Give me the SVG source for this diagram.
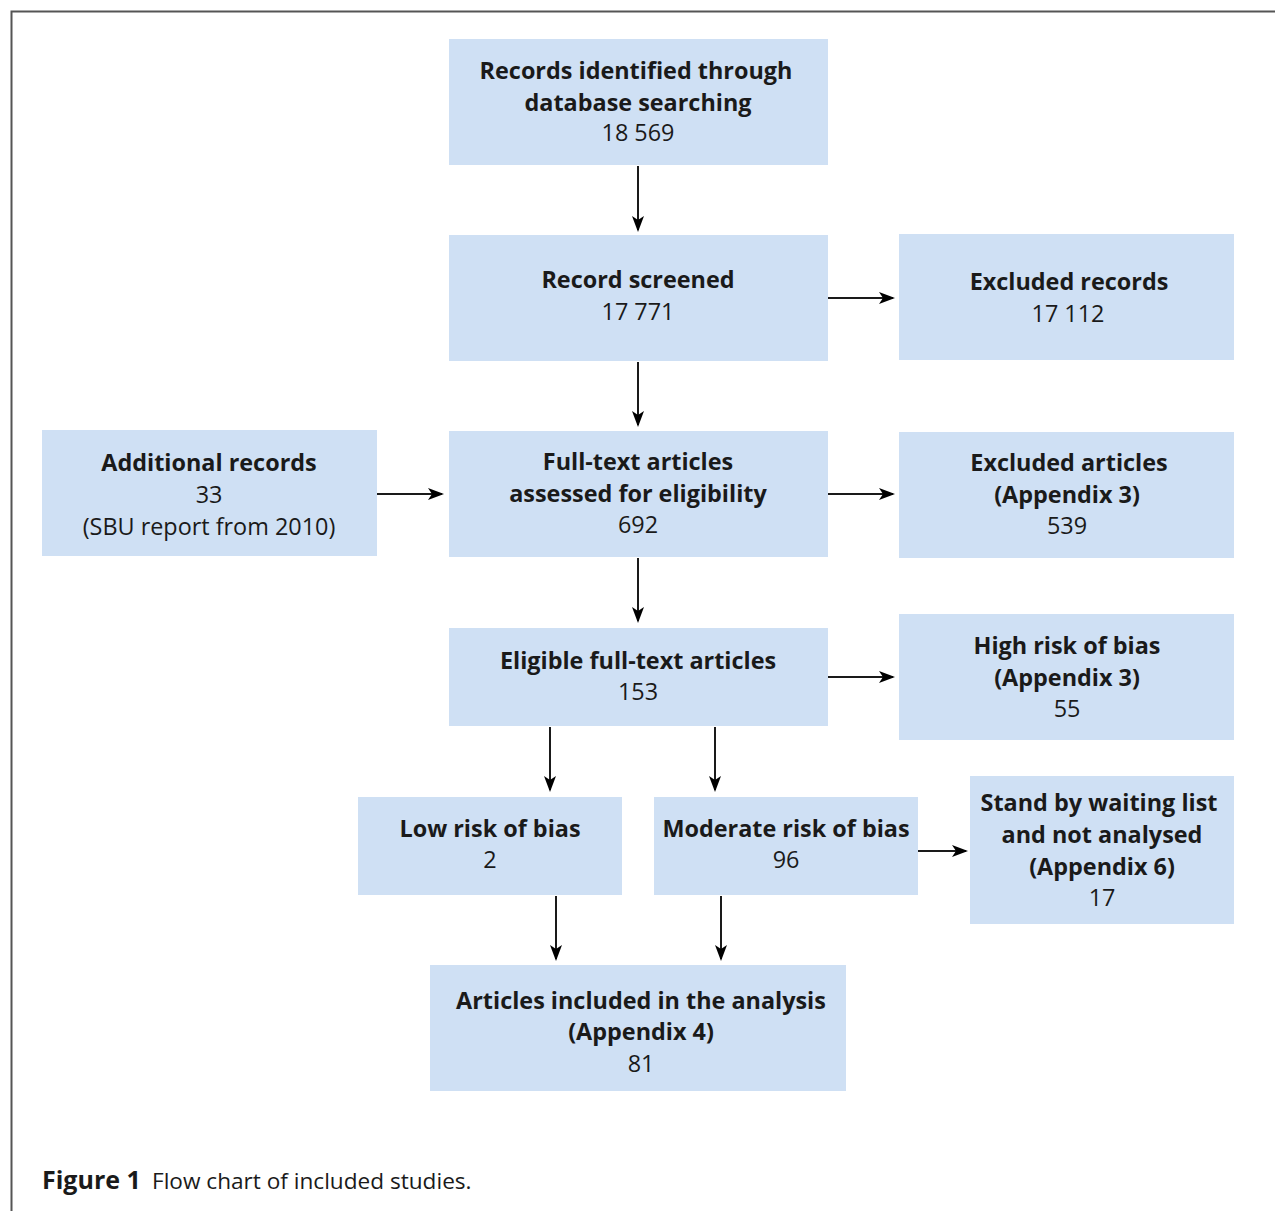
<svg xmlns="http://www.w3.org/2000/svg" width="1275" height="1211" viewBox="0 0 1275 1211">
<style>
.box{fill:#cfe0f4}
.b{font-family:"Open Sans","Liberation Sans",sans-serif;font-weight:700;font-size:23.4px;fill:#1a1a1a;text-anchor:middle}
.r{font-family:"Open Sans","Liberation Sans",sans-serif;font-weight:400;font-size:23.4px;fill:#1a1a1a;text-anchor:middle}
.c{stroke:#1a1a1a;stroke-width:2;fill:none;marker-end:url(#ah)}
.cap{font-family:"Open Sans","Liberation Sans",sans-serif;fill:#1a1a1a}
</style>
<defs>
<marker id="ah" markerWidth="16" markerHeight="12" refX="14" refY="6" orient="auto" markerUnits="userSpaceOnUse">
<path d="M0,0 L16,6 L0,12 L4,6 Z" fill="#000"/>
</marker>
</defs>
<rect width="1275" height="1211" fill="#fff"/>
<polyline points="11.5,1211 11.5,11.5 1275,11.5" fill="none" stroke="#555" stroke-width="2"/>
<g id="connectors">
<line class="c" x1="638" y1="166" x2="638" y2="230"/>
<line class="c" x1="638" y1="362" x2="638" y2="425"/>
<line class="c" x1="828" y1="298" x2="893" y2="298"/>
<line class="c" x1="376" y1="494" x2="442" y2="494"/>
<line class="c" x1="828" y1="494" x2="893" y2="494"/>
<line class="c" x1="638" y1="558" x2="638" y2="621"/>
<line class="c" x1="828" y1="677" x2="893" y2="677"/>
<line class="c" x1="550" y1="727" x2="550" y2="790"/>
<line class="c" x1="715" y1="727" x2="715" y2="790"/>
<line class="c" x1="918" y1="851" x2="966" y2="851"/>
<line class="c" x1="556" y1="896" x2="556" y2="959"/>
<line class="c" x1="721" y1="896" x2="721" y2="959"/>
</g>
<g id="n1"><rect class="box" x="449" y="39" width="379" height="126"/>
<text class="b" x="636" y="79">Records identified through</text>
<text class="b" x="638" y="111">database searching</text>
<text class="r" x="638" y="141">18 569</text></g>
<g id="n2"><rect class="box" x="449" y="235" width="379" height="126"/>
<text class="b" x="638" y="288">Record screened</text>
<text class="r" x="638" y="320">17 771</text></g>
<g id="n3"><rect class="box" x="899" y="234" width="335" height="126"/>
<text class="b" x="1069" y="290">Excluded records</text>
<text class="r" x="1068" y="322">17 112</text></g>
<g id="n4"><rect class="box" x="42" y="430" width="335" height="126"/>
<text class="b" x="209" y="471">Additional records</text>
<text class="r" x="209" y="503">33</text>
<text class="r" x="209" y="535">(SBU report from 2010)</text></g>
<g id="n5"><rect class="box" x="449" y="431" width="379" height="126"/>
<text class="b" x="638" y="470">Full-text articles</text>
<text class="b" x="638" y="502">assessed for eligibility</text>
<text class="r" x="638" y="533">692</text></g>
<g id="n6"><rect class="box" x="899" y="432" width="335" height="126"/>
<text class="b" x="1069" y="471">Excluded articles</text>
<text class="b" x="1067" y="503">(Appendix 3)</text>
<text class="r" x="1067" y="534">539</text></g>
<g id="n7"><rect class="box" x="449" y="628" width="379" height="98"/>
<text class="b" x="638" y="669">Eligible full-text articles</text>
<text class="r" x="638" y="700">153</text></g>
<g id="n8"><rect class="box" x="899" y="614" width="335" height="126"/>
<text class="b" x="1067" y="654">High risk of bias</text>
<text class="b" x="1067" y="686">(Appendix 3)</text>
<text class="r" x="1067" y="717">55</text></g>
<g id="n9"><rect class="box" x="358" y="797" width="264" height="98"/>
<text class="b" x="490" y="837">Low risk of bias</text>
<text class="r" x="490" y="868">2</text></g>
<g id="n10"><rect class="box" x="654" y="797" width="264" height="98"/>
<text class="b" x="786" y="837">Moderate risk of bias</text>
<text class="r" x="786" y="868">96</text></g>
<g id="n11"><rect class="box" x="970" y="776" width="264" height="148"/>
<text class="b" x="1099" y="811">Stand by waiting list</text>
<text class="b" x="1102" y="843">and not analysed</text>
<text class="b" x="1102" y="875">(Appendix 6)</text>
<text class="r" x="1102" y="906">17</text></g>
<g id="n12"><rect class="box" x="430" y="965" width="416" height="126"/>
<text class="b" x="641" y="1009">Articles included in the analysis</text>
<text class="b" x="641" y="1040">(Appendix 4)</text>
<text class="r" x="641" y="1072">81</text></g>
<text class="cap" x="42" y="1189" font-size="25" font-weight="700">Figure 1</text>
<text class="cap" x="152" y="1189" font-size="22.6">Flow chart of included studies.</text>
</svg>
